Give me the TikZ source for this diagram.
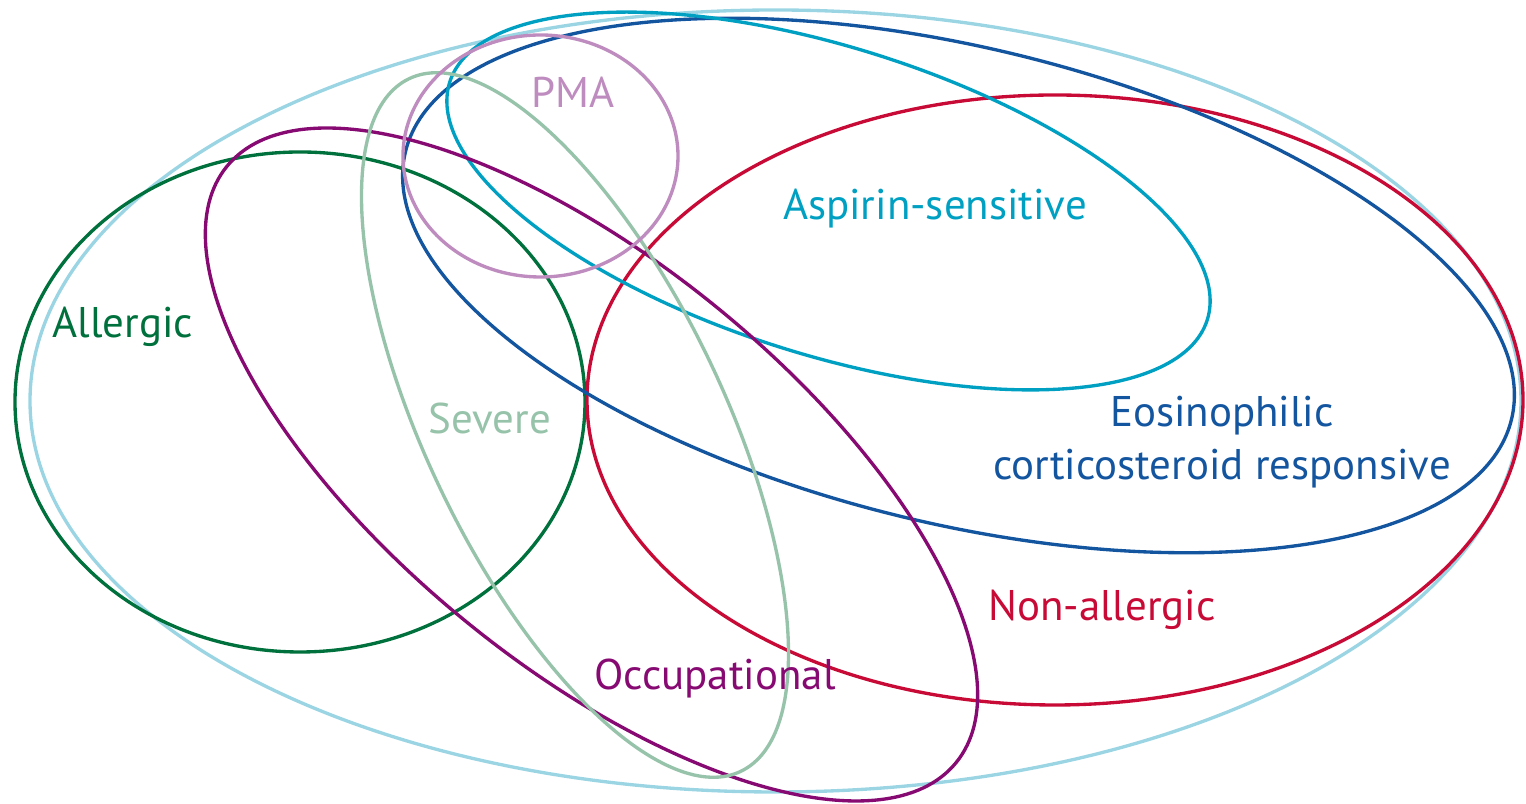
\documentclass[tikz,border=0pt]{standalone}
\usepackage{fontspec}
\setmainfont{PT Sans}
\definecolor{cOuter}{RGB}{155,213,228}
\definecolor{cAllergic}{RGB}{0,112,60}
\definecolor{cSevere}{RGB}{150,195,170}
\definecolor{cPMA}{RGB}{190,140,190}
\definecolor{cOccup}{RGB}{135,10,115}
\definecolor{cEosin}{RGB}{20,85,160}
\definecolor{cAspirin}{RGB}{0,160,195}
\definecolor{cNonAll}{RGB}{200,10,55}
\tikzset{
  setline/.style={line width=0.95pt},
  setlabel/.style={anchor=base, inner sep=0pt, font=\fontsize{12.2pt}{15.1pt}\selectfont, align=center}
}
\begin{document}
\begin{tikzpicture}[x=0.01cm,y=-0.01cm]
\useasboundingbox (0,0) rectangle (1526,804);
% outer set
\draw[setline, cOuter] (775.5,401) ellipse [x radius=745.5, y radius=391];
% allergic
\draw[setline, cAllergic] (300,402) ellipse [x radius=285, y radius=250];
% non-allergic
\draw[setline, cNonAll] (1055,400) ellipse [x radius=468, y radius=305];
% eosinophilic
\draw[setline, cEosin, shift={(958.5,285.5)}, rotate=-13.6] (0,0) ellipse [x radius=569, y radius=238];
% aspirin
\draw[setline, cAspirin, shift={(828.5,201)}, rotate=-17.4] (0,0) ellipse [x radius=397, y radius=154];
% occupational
\draw[setline, cOccup, shift={(591.5,464.5)}, rotate=-39.3] (0,0) ellipse [x radius=471, y radius=201];
% severe
\draw[setline, cSevere, shift={(575,425)}, rotate=-64.4] (0,0) ellipse [x radius=384, y radius=149];
% PMA
\draw[setline, cPMA] (540.5,156) ellipse [x radius=137.5, y radius=121];

% labels
\node[setlabel, text=cPMA] (lPMA) at (573,108) {PMA};
\node[setlabel, text=cAspirin] (lAspirin) at (935,220) {Aspirin-sensitive};
\node[setlabel, text=cAllergic] (lAllergic) at (123,338) {Allergic};
\node[setlabel, text=cSevere] (lSevere) at (490,434) {Severe};
\node[setlabel, text=cEosin] (lEosin1) at (1222,427) {Eosinophilic};
\node[setlabel, text=cEosin] (lEosin2) at (1222,480) {corticosteroid responsive};
\node[setlabel, text=cNonAll] (lNonAll) at (1102,621) {Non-allergic};
\node[setlabel, text=cOccup] (lOccup) at (715,690) {Occupational};
\end{tikzpicture}
\end{document}
